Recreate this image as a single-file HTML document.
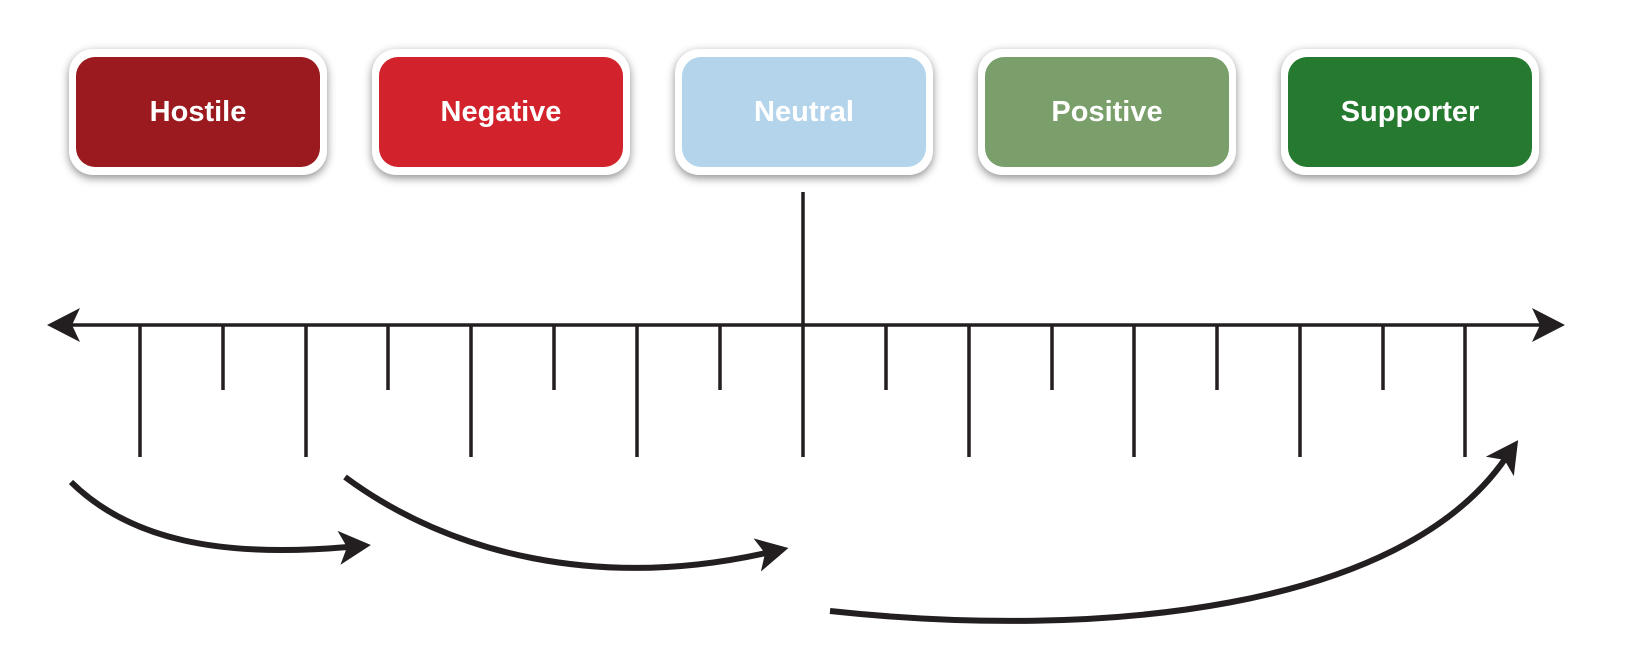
<!DOCTYPE html>
<html><head><style>
body{margin:0;width:1642px;height:664px;background:#fff;position:relative;overflow:hidden;font-family:"Liberation Sans",sans-serif}
.b{position:absolute;top:49px;width:258px;height:126px;background:#fff;border-radius:24px;box-shadow:0 3px 9px rgba(0,0,0,.45)}
.b div{position:absolute;left:7px;top:8px;right:7px;bottom:8px;border-radius:19px;color:#fff;font-weight:bold;font-size:29px;display:flex;align-items:center;justify-content:center}
svg{position:absolute;left:0;top:0}
</style></head><body>
<div class="b" style="left:69px"><div style="background:#9b1a20">Hostile</div></div>
<div class="b" style="left:372px"><div style="background:#d2222b">Negative</div></div>
<div class="b" style="left:675px"><div style="background:#b4d4eb">Neutral</div></div>
<div class="b" style="left:978px"><div style="background:#7a9f6b">Positive</div></div>
<div class="b" style="left:1281px"><div style="background:#267a30">Supporter</div></div>
<svg width="1642" height="664">
<defs>
<marker id="a" markerUnits="userSpaceOnUse" markerWidth="40" markerHeight="40" refX="9" refY="17" orient="auto" viewBox="0 0 40 40">
<path d="M0,0 L32,17 L0,34 L8,17z" fill="#231f20"/></marker>
</defs>
<g stroke="#231f20" stroke-width="3.5">
<line x1="60" y1="325" x2="1550" y2="325"/>
<line x1="803" y1="192" x2="803" y2="457"/>
</g>
<path d="M47,325 L80,308 L72,325 L80,342z" fill="#231f20"/>
<path d="M1565,325 L1532,308 L1540,325 L1532,342z" fill="#231f20"/>
<g stroke="#231f20" stroke-width="3.5">
<line x1="140" y1="325" x2="140" y2="457"/><line x1="223" y1="325" x2="223" y2="390"/>
<line x1="306" y1="325" x2="306" y2="457"/><line x1="388" y1="325" x2="388" y2="390"/>
<line x1="471" y1="325" x2="471" y2="457"/><line x1="554" y1="325" x2="554" y2="390"/>
<line x1="637" y1="325" x2="637" y2="457"/><line x1="720" y1="325" x2="720" y2="390"/>
<line x1="886" y1="325" x2="886" y2="390"/>
<line x1="969" y1="325" x2="969" y2="457"/><line x1="1052" y1="325" x2="1052" y2="390"/>
<line x1="1134" y1="325" x2="1134" y2="457"/><line x1="1217" y1="325" x2="1217" y2="390"/>
<line x1="1300" y1="325" x2="1300" y2="457"/><line x1="1383" y1="325" x2="1383" y2="390"/>
<line x1="1465" y1="325" x2="1465" y2="457"/>
</g>
<g fill="none" stroke="#231f20" stroke-width="6" marker-end="url(#a)">
<path d="M71,482 C130,540 220,558 348,547"/>
<path d="M345,477 C450,555 600,590 766,553"/>
<path d="M830,611 C1100,640 1400,610 1505,459"/>
</g>
</svg>
</body></html>
